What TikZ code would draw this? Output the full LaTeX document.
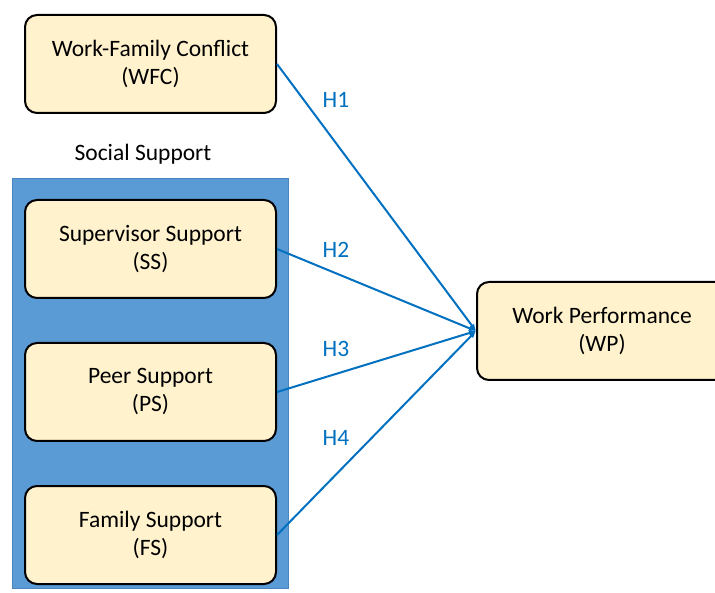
\documentclass[tikz,border=0pt]{standalone}
\usepackage{fontspec}
\setmainfont{Carlito}
\usetikzlibrary{arrows.meta,backgrounds,positioning}
\definecolor{hypline}{HTML}{0070C0}
\definecolor{varfill}{HTML}{FFF2CC}
\definecolor{groupfill}{HTML}{5B9BD5}
\definecolor{groupline}{HTML}{4A86BE}
\tikzset{%
  varbox/.style={%
    draw=black,
    fill=varfill,
    line width=2pt,
    rounded corners=12pt,
    minimum width=251pt,
    minimum height=98pt,
    inner sep=0pt,
    align=center,
    font=\fontsize{23.5}{28}\selectfont
  },
  hyparrow/.style={-{Latex[length=7pt,width=6pt]},line width=2pt,draw=hypline},
  hyplabel/.style={text=hypline,font=\fontsize{23.5}{28}\selectfont}
}

\begin{document}
\begin{tikzpicture}[x=1pt,y=1pt,node distance=43pt]
    \useasboundingbox (0,0) rectangle (715,-593);
    \node[varbox] (wfc) at (150.5,-64) {Work-Family Conflict\\(WFC)};
    \node[varbox] (ss) at (150.5,-249) {Supervisor Support\\(SS)};
    \node[varbox,below=of ss] (ps) {Peer Support\\(PS)};
    \node[varbox,below=of ps] (fs) {Family Support\\(FS)};
    \node[varbox,anchor=west,minimum width=250pt] (wp) at (476,-331) {Work Performance\\(WP)};
    \node[font=\fontsize{23.5}{28}\selectfont] (social) at (143,-154) {Social Support};

    % group panel behind the support measures
    \begin{scope}[on background layer]
      \fill[groupfill,draw=groupline,line width=1pt] (12,-179) rectangle (288,-588);
    \end{scope}

    \draw[hyparrow] (wfc.east) -- (wp.west);
    \draw[hyparrow] (ss.east) -- (wp.west);
    \draw[hyparrow] (ps.east) -- (wp.west);
    \draw[hyparrow] (fs.east) -- (wp.west);

    \node[hyplabel] (h1) at (336,-100) {H1};
    \node[hyplabel] (h2) at (336,-250) {H2};
    \node[hyplabel] (h3) at (336,-349) {H3};
    \node[hyplabel] (h4) at (336,-438) {H4};
  \end{tikzpicture}
\end{document}
